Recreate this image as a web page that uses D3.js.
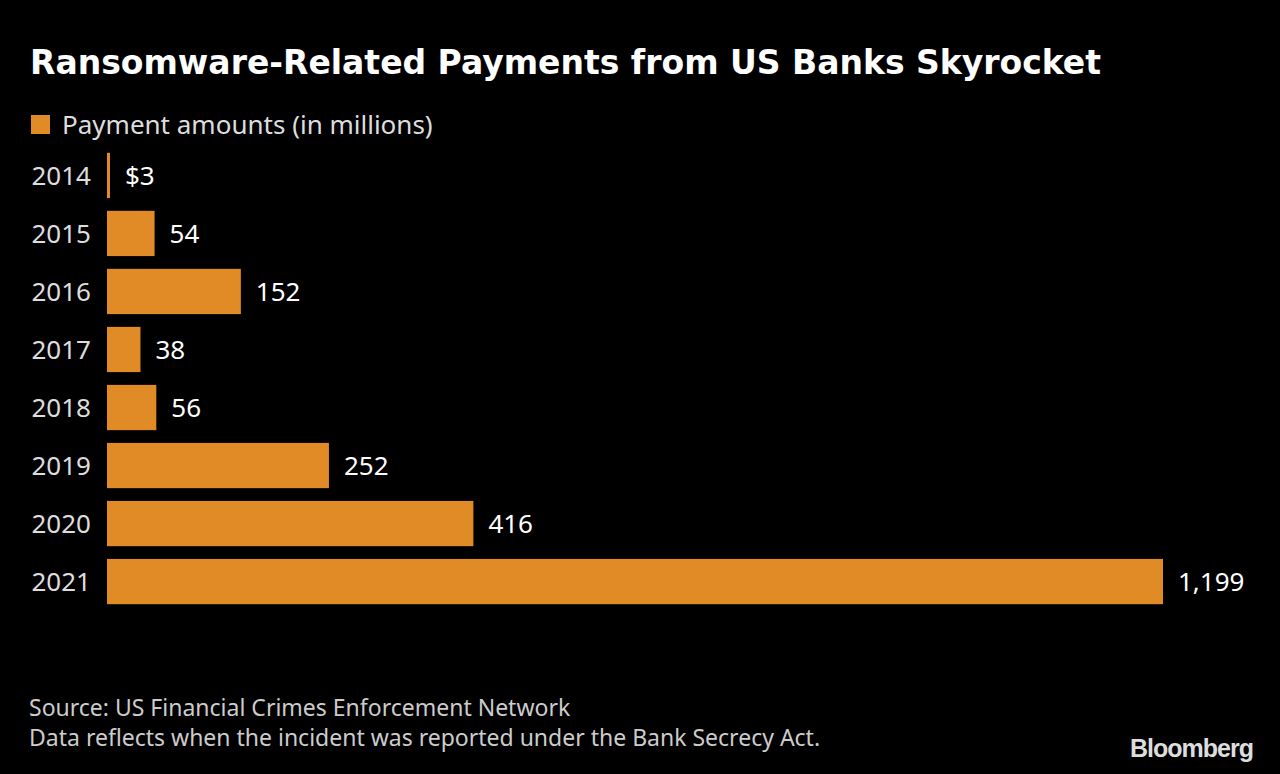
<!DOCTYPE html>
<html>
<head>
<meta charset="utf-8">
<script src="https://cdn.jsdelivr.net/npm/d3@7"></script>
<style>
  body { margin: 0; background: #000; }
  svg { display: block; }
</style>
</head>
<body>
<div id="chart"></div>
<script>
// data
const years = ["2014", "2015", "2016", "2017", "2018", "2019", "2020", "2021"];
const payments = [3, 54, 152, 38, 56, 252, 416, 1199];
const valueLabels = ["$3", "54", "152", "38", "56", "252", "416", "1,199"];

const width = 1280, height = 774;
const barColor = "#e08b26";
const font = "'Noto Sans', sans-serif";

const svg = d3.select("#chart").append("svg")
    .attr("width", width)
    .attr("height", height)
    .style("background-color", "#000");

// title
svg.append("text")
    .attr("x", 30).attr("y", 74)
    .text("Ransomware-Related Payments from US Banks Skyrocket")
    .style("fill", "#fff")
    .style("font-family", "'DejaVu Sans', sans-serif")
    .style("font-weight", "bold")
    .style("font-size", "33px");

// legend
svg.append("rect")
    .attr("x", 31).attr("y", 115).attr("width", 19).attr("height", 19)
    .attr("fill", barColor);
svg.append("text")
    .attr("x", 62).attr("y", 134)
    .text("Payment amounts (in millions)")
    .style("fill", "#ddd")
    .style("font-family", font)
    .style("font-size", "26px");

const x = d3.scaleLinear().domain([0, 1199]).range([107, 1163]);
const y = d3.scaleBand().domain(years).range([147, 610]).paddingInner(0.22).paddingOuter(0.1);

const g = svg.append("g");

g.selectAll("rect.bar")
    .data(years)
    .enter()
    .append("rect")
    .attr("class", "bar")
    .attr("x", x(0))
    .attr("y", d => y(d))
    .attr("width", (d, i) => Math.max(3, x(payments[i]) - x(0)))
    .attr("height", y.bandwidth())
    .attr("fill", barColor);

// year labels
g.selectAll("text.year")
    .data(years)
    .enter()
    .append("text")
    .attr("class", "year")
    .attr("x", 91)
    .attr("y", d => y(d) + y.bandwidth() / 2)
    .attr("dy", "0.35em")
    .attr("text-anchor", "end")
    .text(d => d)
    .style("fill", "#ddd")
    .style("font-family", font)
    .style("font-size", "26px");

// value labels
g.selectAll("text.val")
    .data(years)
    .enter()
    .append("text")
    .attr("class", "val")
    .attr("x", (d, i) => Math.max(x(0) + 3, x(payments[i])) + 15)
    .attr("y", d => y(d) + y.bandwidth() / 2)
    .attr("dy", "0.35em")
    .text((d, i) => valueLabels[i])
    .style("fill", "#fff")
    .style("font-family", font)
    .style("font-size", "26px");

// footnotes
const notes = ["Source: US Financial Crimes Enforcement Network",
               "Data reflects when the incident was reported under the Bank Secrecy Act."];
svg.selectAll("text.note")
    .data(notes)
    .enter()
    .append("text")
    .attr("class", "note")
    .attr("x", 29)
    .attr("y", (d, i) => 716 + i * 30)
    .text(d => d)
    .style("fill", "#ccc")
    .style("font-family", font)
    .style("font-size", "23px");

svg.append("text")
    .attr("x", 1253).attr("y", 757)
    .attr("text-anchor", "end")
    .text("Bloomberg")
    .style("fill", "#ddd")
    .style("font-family", "'Liberation Sans', sans-serif")
    .style("font-weight", "bold")
    .style("letter-spacing", "-1px")
    .style("font-size", "25px");
</script>
</body>
</html>
